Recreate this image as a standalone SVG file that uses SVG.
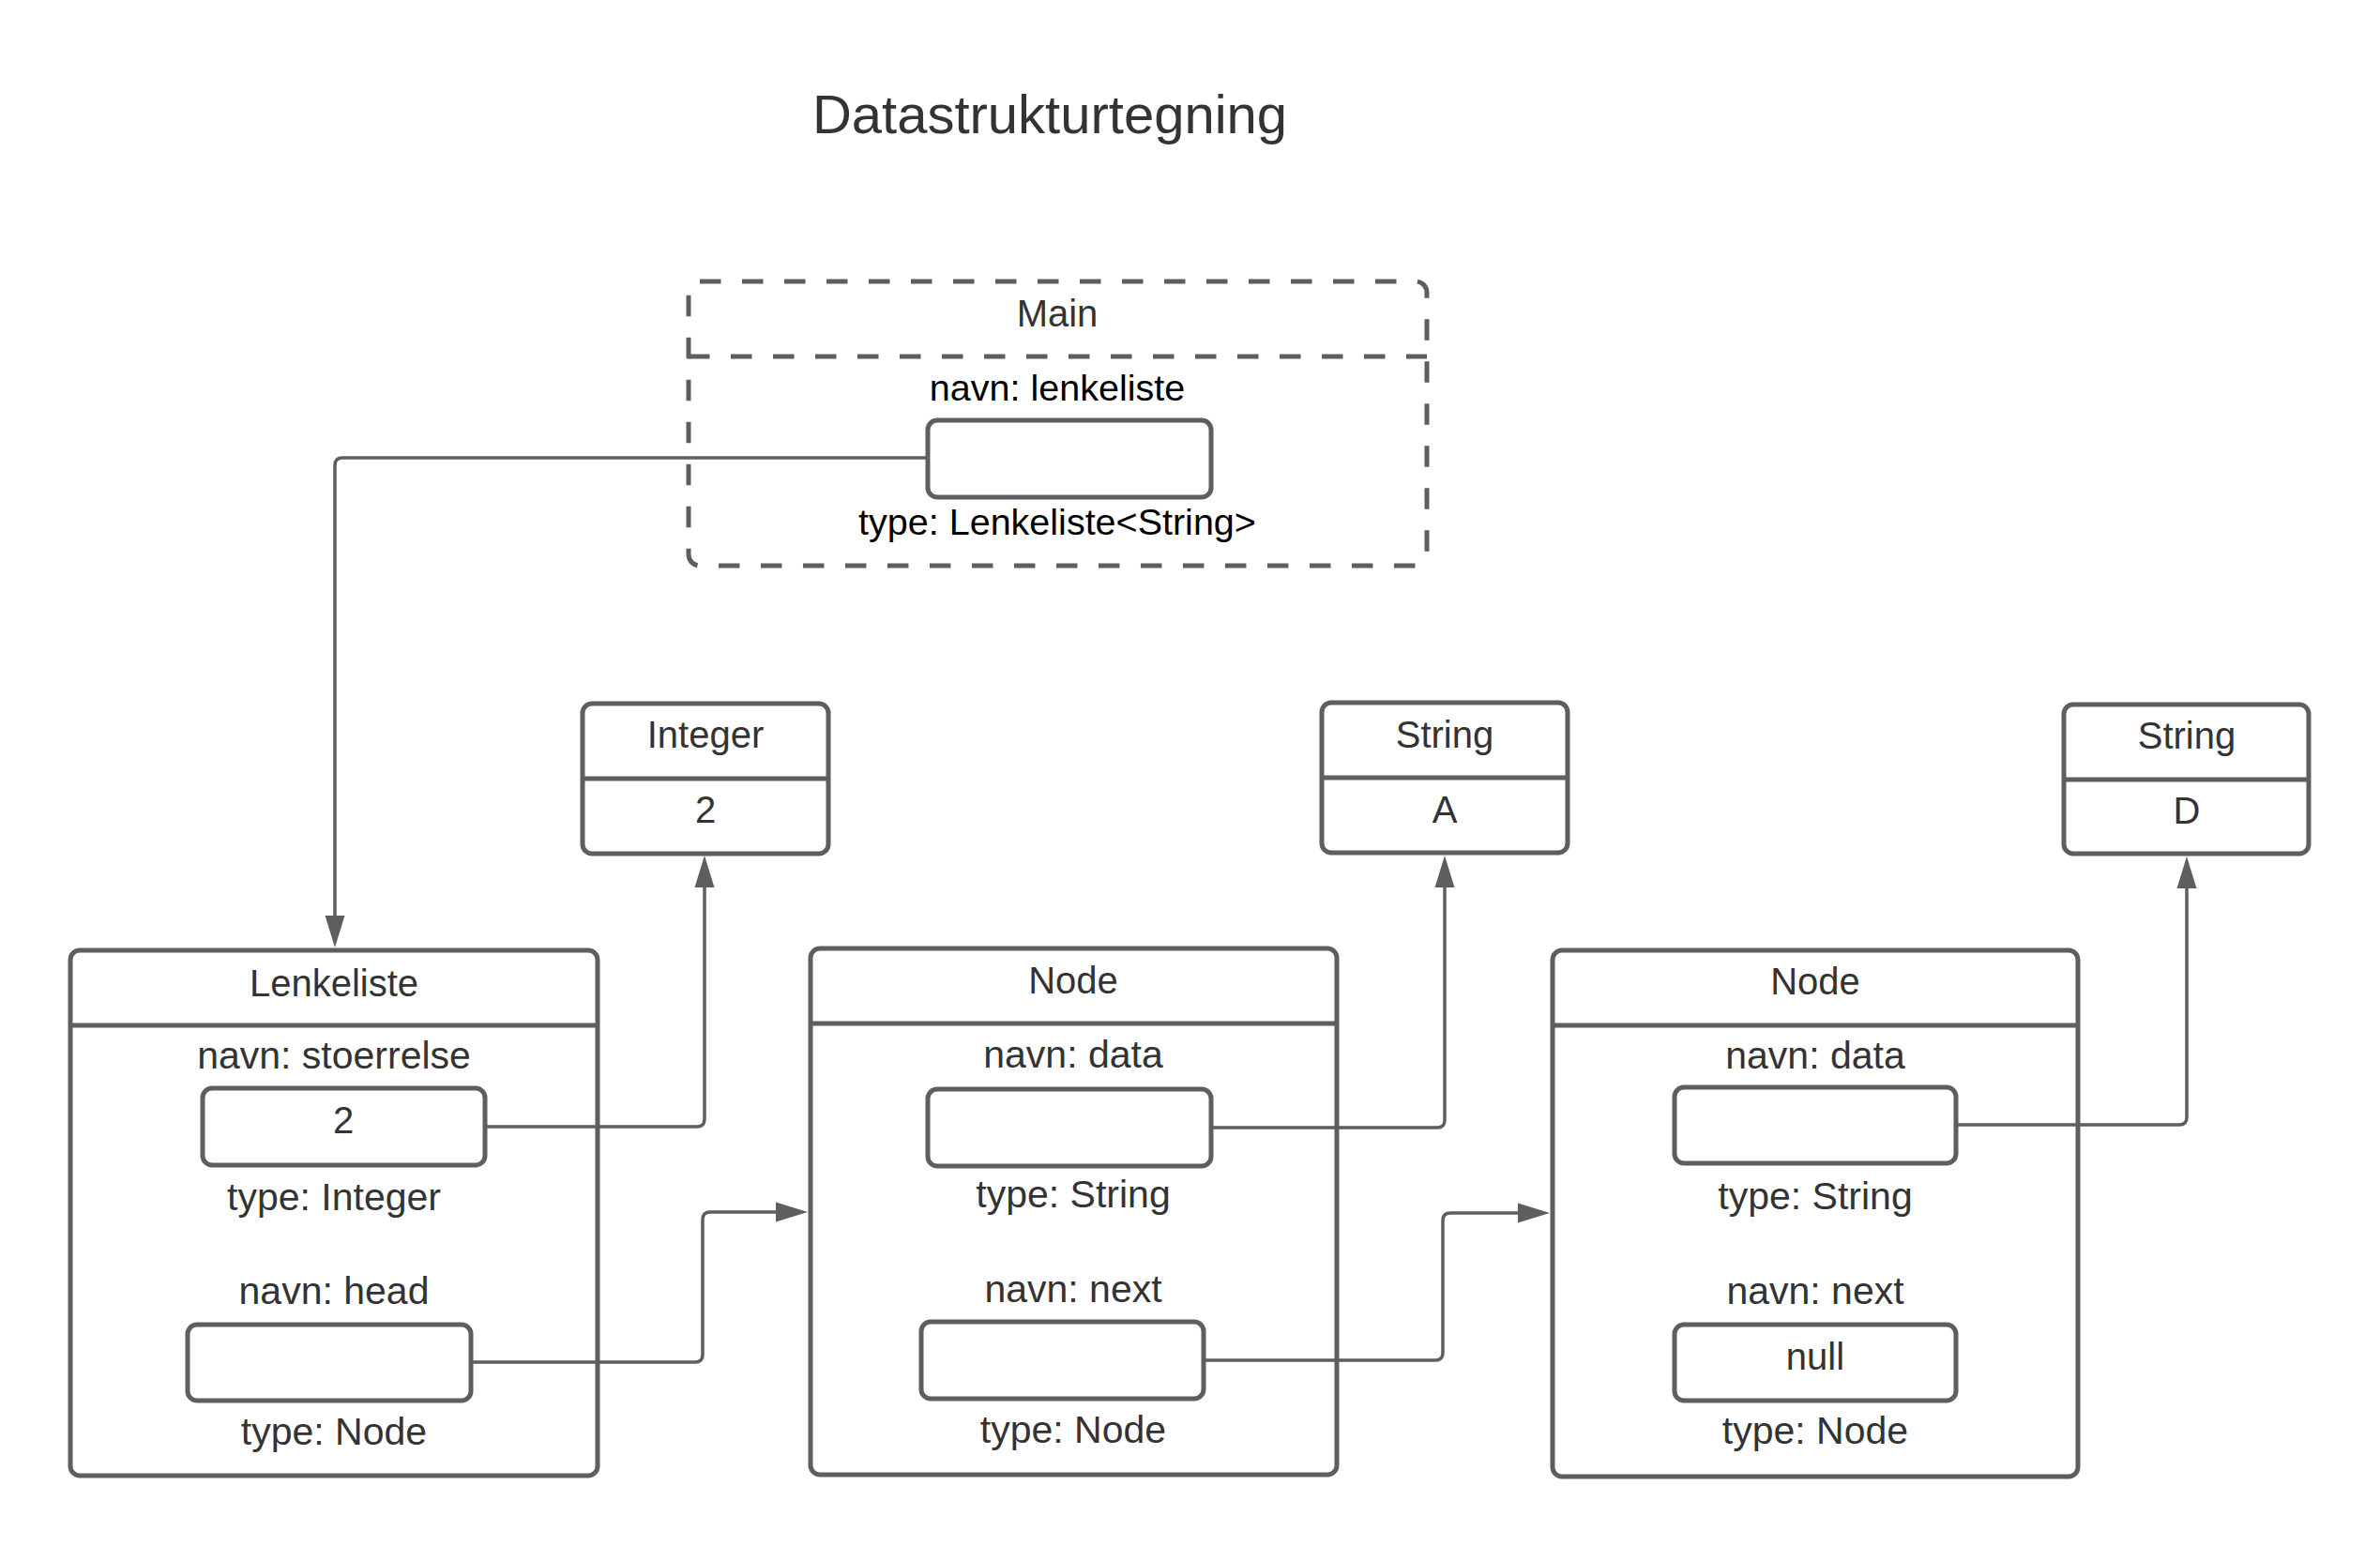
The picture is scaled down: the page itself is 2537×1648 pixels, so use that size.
<svg xmlns="http://www.w3.org/2000/svg" width="2537" height="1648" viewBox="0 0 2537 1648">
<style>
.box{fill:#ffffff;stroke:#5e5e5e;stroke-width:5}
.dash{fill:none;stroke:#5e5e5e;stroke-width:5;stroke-dasharray:22.5 22.5}
.div{stroke:#5e5e5e;stroke-width:5}
.conn{fill:none;stroke:#5e5e5e;stroke-width:3.5}
.ah{fill:#5e5e5e}
text{font-family:"Liberation Sans",Arial,sans-serif;font-size:41px;fill:#333333;text-anchor:middle}
.hd{font-size:40px}
.blk{fill:#000000;font-size:39.5px}
.title{font-size:58px}
</style>
<rect width="2537" height="1648" fill="#ffffff"/>
<text class="title" x="1119" y="142">Datastrukturtegning</text>

<g id="main">
<rect class="dash" x="734" y="300" width="787" height="303" rx="12"/>
<line class="dash" x1="734" y1="380" x2="1521" y2="380"/>
<text class="hd" x="1127" y="348">Main</text>
<text class="blk" x="1127" y="427">navn: lenkeliste</text>
<rect class="box" x="989" y="448" width="302" height="82" rx="10"/>
<text class="blk" x="1127" y="570">type: Lenkeliste&lt;String&gt;</text>
</g>

<g id="integer">
<rect class="box" x="621" y="750" width="262" height="160" rx="10"/>
<line class="div" x1="621" y1="830" x2="883" y2="830"/>
<text class="hd" x="752" y="797">Integer</text>
<text class="hd" x="752" y="877">2</text>
</g>

<g id="stringA">
<rect class="box" x="1409" y="749" width="262" height="160" rx="10"/>
<line class="div" x1="1409" y1="829" x2="1671" y2="829"/>
<text class="hd" x="1540" y="797">String</text>
<text class="hd" x="1540" y="877">A</text>
</g>

<g id="stringD">
<rect class="box" x="2200" y="751" width="261" height="159" rx="10"/>
<line class="div" x1="2200" y1="831" x2="2461" y2="831"/>
<text class="hd" x="2331" y="798">String</text>
<text class="hd" x="2331" y="878">D</text>
</g>

<g id="lenkeliste">
<rect class="box" x="75" y="1013" width="562" height="560" rx="10"/>
<line class="div" x1="75" y1="1093" x2="637" y2="1093"/>
<text class="hd" x="356" y="1062">Lenkeliste</text>
<text x="356" y="1139">navn: stoerrelse</text>
<rect class="box" x="216" y="1160" width="301" height="82" rx="10"/>
<text class="hd" x="366" y="1208">2</text>
<text x="356" y="1290">type: Integer</text>
<text x="356" y="1390">navn: head</text>
<rect class="box" x="200" y="1412" width="302" height="81" rx="10"/>
<text x="356" y="1540">type: Node</text>
</g>

<g id="node1">
<rect class="box" x="864" y="1011" width="561" height="561" rx="10"/>
<line class="div" x1="864" y1="1091" x2="1425" y2="1091"/>
<text class="hd" x="1144" y="1059">Node</text>
<text x="1144" y="1138">navn: data</text>
<rect class="box" x="989" y="1161" width="302" height="82" rx="10"/>
<text x="1144" y="1287">type: String</text>
<text x="1144" y="1388">navn: next</text>
<rect class="box" x="982" y="1409" width="301" height="82" rx="10"/>
<text x="1144" y="1538">type: Node</text>
</g>

<g id="node2">
<rect class="box" x="1655" y="1013" width="560" height="561" rx="10"/>
<line class="div" x1="1655" y1="1093" x2="2215" y2="1093"/>
<text class="hd" x="1935" y="1060">Node</text>
<text x="1935" y="1139">navn: data</text>
<rect class="box" x="1785" y="1159" width="300" height="81" rx="10"/>
<text x="1935" y="1289">type: String</text>
<text x="1935" y="1390">navn: next</text>
<rect class="box" x="1785" y="1412" width="300" height="81" rx="10"/>
<text class="hd" x="1935" y="1460">null</text>
<text x="1935" y="1539">type: Node</text>
</g>

<g id="connectors">
<path class="conn" d="M989 488 H365 Q357 488 357 496 V978"/>
<polygon class="ah" points="357,1010 346.5,976 367.5,976"/>
<path class="conn" d="M517 1201 H743 Q751 1201 751 1193 V944"/>
<polygon class="ah" points="751,912 740.5,946 761.5,946"/>
<path class="conn" d="M502 1452 H741 Q749 1452 749 1444 V1300 Q749 1292 757 1292 H828"/>
<polygon class="ah" points="861,1292 827,1281.5 827,1302.5"/>
<path class="conn" d="M1291 1202 H1532 Q1540 1202 1540 1194 V944"/>
<polygon class="ah" points="1540,912 1529.5,946 1550.5,946"/>
<path class="conn" d="M1283 1450 H1530 Q1538 1450 1538 1442 V1301 Q1538 1293 1546 1293 H1619"/>
<polygon class="ah" points="1652,1293 1618,1282.5 1618,1303.5"/>
<path class="conn" d="M2085 1199 H2323 Q2331 1199 2331 1191 V945"/>
<polygon class="ah" points="2331,913 2320.5,947 2341.5,947"/>
</g>
</svg>
